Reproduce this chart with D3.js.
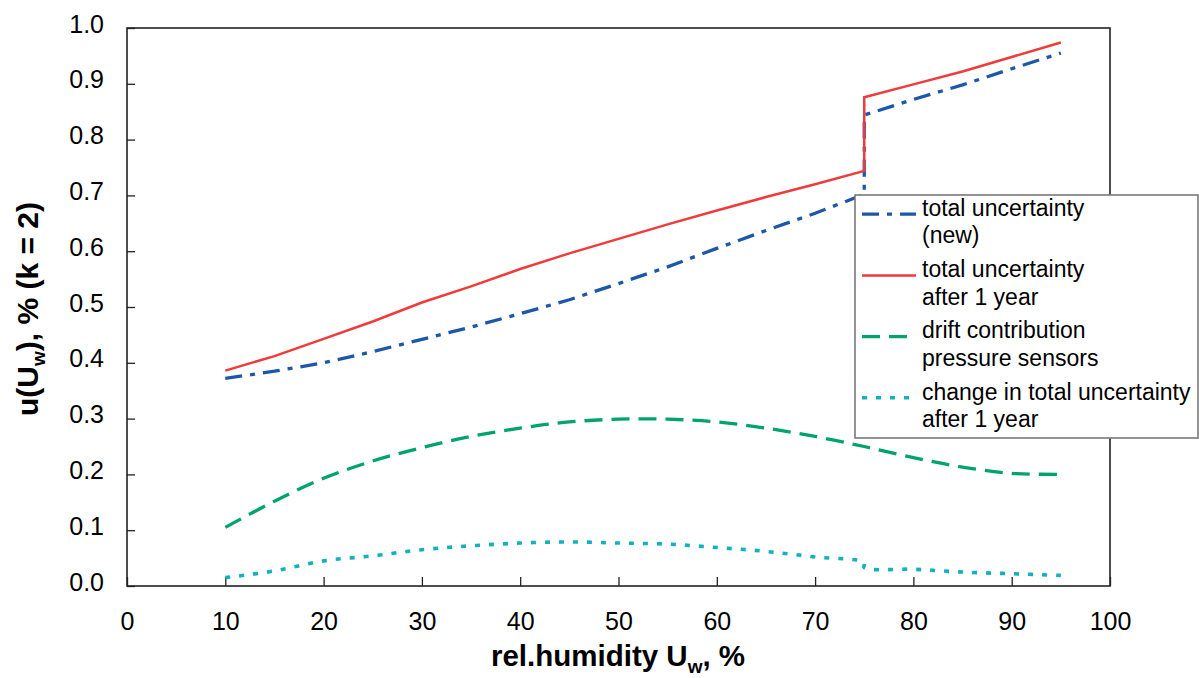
<html>
<head>
<script src="https://d3js.org/d3.v7.min.js"></script>
<style>
  body { margin: 0; background: white; }
  text { font-family: "Liberation Sans", Arial, sans-serif; fill: #000; }
</style>
</head>
<body>
<svg width="1199" height="678"></svg>
<script>
// rel. humidity (75 twice: the curves jump there)
const humidity = [10, 15, 20, 25, 30, 35, 40, 45, 50, 55, 60, 65, 70, 75, 75, 80, 85, 90, 95]
const totalNew = [0.372, 0.385, 0.400, 0.420, 0.442, 0.464, 0.488, 0.513, 0.542, 0.572, 0.605, 0.637, 0.668, 0.702, 0.844, 0.872, 0.898, 0.927, 0.955]
const totalAfterYear = [0.386, 0.412, 0.443, 0.474, 0.508, 0.537, 0.568, 0.596, 0.622, 0.648, 0.673, 0.697, 0.720, 0.744, 0.876, 0.899, 0.922, 0.948, 0.974]
const driftPressure = [0.105, 0.152, 0.193, 0.224, 0.248, 0.268, 0.283, 0.294, 0.299, 0.299, 0.294, 0.283, 0.268, 0.250, 0.250, 0.230, 0.213, 0.202, 0.200]
const changeAfterYear = [0.015, 0.027, 0.045, 0.054, 0.065, 0.072, 0.077, 0.079, 0.077, 0.075, 0.069, 0.062, 0.052, 0.042, 0.033, 0.030, 0.025, 0.022, 0.019]

const legendLabels = [["total uncertainty", "(new)"], ["total uncertainty", "after 1 year"], ["drift contribution", "pressure sensors"], ["change in total uncertainty", "after 1 year"]]
const xTicks = [0, 10, 20, 30, 40, 50, 60, 70, 80, 90, 100]
const yTicks = [0.0, 0.1, 0.2, 0.3, 0.4, 0.5, 0.6, 0.7, 0.8, 0.9, 1.0]

const plotL = 127, plotR = 1110, plotT = 28, plotB = 586
var x = d3.scaleLinear().domain([0, 100]).range([plotL, plotR])
var y = d3.scaleLinear().domain([0, 1]).range([plotB, plotT])

const svg = d3.select("svg")

// frame
svg.append("rect")
  .attr("x", plotL).attr("y", plotT)
  .attr("width", plotR - plotL).attr("height", plotB - plotT)
  .style("fill", "none").style("stroke", "#222").style("stroke-width", 1.6)

// axes, ticks pointing inward
var xAxis = svg.append("g")
  .attr("transform", "translate(0," + plotB + ")")
  .call(d3.axisBottom(x).tickValues(xTicks).tickFormat(d3.format("d")).tickSizeInner(-9).tickSizeOuter(0).tickPadding(26))
xAxis.select(".domain").remove()
xAxis.selectAll("line").style("stroke", "#222").style("stroke-width", 1.3)
xAxis.selectAll("text").style("font-size", "25px").style("font-family", "Liberation Sans, Arial, sans-serif").attr("fill", "#000")

var yAxis = svg.append("g")
  .attr("transform", "translate(" + plotL + ",0)")
  .call(d3.axisLeft(y).tickValues(yTicks).tickFormat(d3.format(".1f")).tickSizeInner(-8).tickSizeOuter(0).tickPadding(23))
yAxis.select(".domain").remove()
yAxis.selectAll("line").style("stroke", "#222").style("stroke-width", 1.3)
yAxis.selectAll("text").attr("dy", "0.16em").style("font-size", "25px").style("font-family", "Liberation Sans, Arial, sans-serif").attr("fill", "#000")

// axis titles
var xt = svg.append("text")
  .attr("x", 618).attr("y", 666)
  .attr("text-anchor", "middle")
  .style("font-size", "29.5px").style("font-weight", "bold")
xt.append("tspan").text("rel.humidity U")
xt.append("tspan").attr("dy", 7).style("font-size", "19px").text("w")
xt.append("tspan").attr("dy", -7).text(", %")

var yt = svg.append("text")
  .attr("transform", "translate(38,309) rotate(-90)")
  .attr("text-anchor", "middle")
  .style("font-size", "30px").style("font-weight", "bold")
yt.append("tspan").text("u(U")
yt.append("tspan").attr("dy", 7).style("font-size", "19px").text("w")
yt.append("tspan").attr("dy", -7).text("), % (k = 2)")

// lines
const series = [
  { values: totalNew, color: "#1c57a8", width: 3.3, dash: "17,8,5,8", smooth: false },
  { values: totalAfterYear, color: "#ef3b3b", width: 2.5, dash: null, smooth: false },
  { values: driftPressure, color: "#00a36c", width: 3.3, dash: "18,9", smooth: true },
  { values: changeAfterYear, color: "#13b1be", width: 3.6, dash: "5,9", smooth: true }
]

series.forEach(function(s) {
  var line = d3.line()
    .x(function(d, i) { return x(humidity[i]) })
    .y(function(d) { return y(d) })
    .curve(s.smooth ? d3.curveCatmullRom.alpha(0.5) : d3.curveLinear)
  svg.append("path")
    .datum(s.values)
    .attr("d", line)
    .style("fill", "none")
    .style("stroke", s.color)
    .style("stroke-width", s.width)
    .style("stroke-dasharray", s.dash)
})

// legend
var lg = svg.append("g")
lg.append("rect")
  .attr("x", 855).attr("y", 195).attr("width", 343).attr("height", 243)
  .style("fill", "white").style("stroke", "#7a7a7a").style("stroke-width", 1.6)

legendLabels.forEach(function(lab, i) {
  var base = 216 + i * 61.2
  lg.append("line")
    .attr("x1", 862).attr("x2", 916)
    .attr("y1", base - 1.8).attr("y2", base - 1.8)
    .style("stroke", series[i].color)
    .style("stroke-width", series[i].width)
    .style("stroke-dasharray", series[i].dash)
  lab.forEach(function(t, j) {
    lg.append("text")
      .attr("x", 922).attr("y", base + j * 27.3)
      .style("font-size", "23px")
      .text(t)
  })
})
</script>
</body>
</html>
